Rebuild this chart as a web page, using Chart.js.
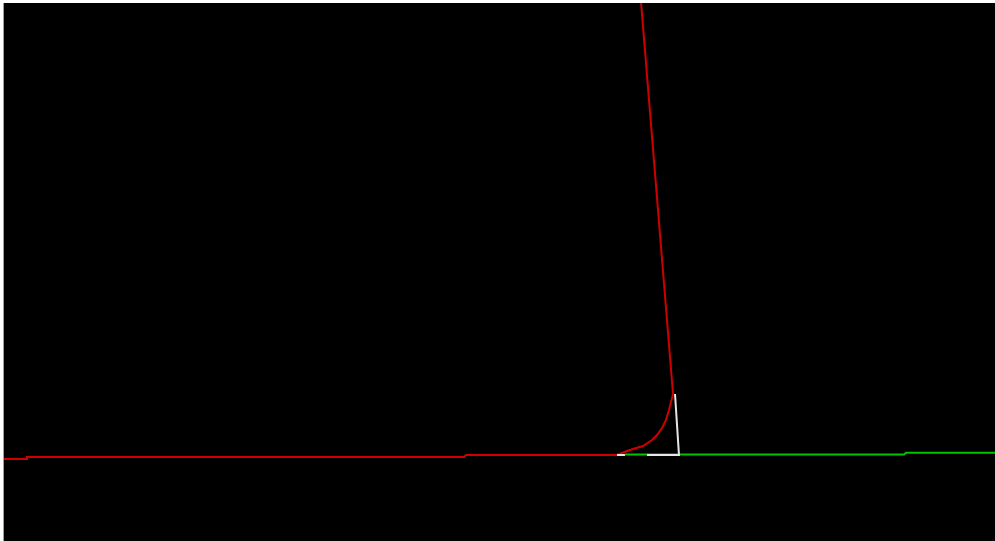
<!DOCTYPE html>
<html>
<head>
<meta charset="utf-8">
<script src="https://cdn.jsdelivr.net/npm/chart.js@4/dist/chart.umd.min.js"></script>
<style>
  html, body { margin: 0; padding: 0; background: #ffffff; }
  #wrap { position: absolute; left: 3px; top: 3px; width: 992px; height: 538px;
          border-left: 1px solid #a0a0a0; background: #000000; box-sizing: border-box; }
  canvas { display: block; }
</style>
</head>
<body>
<div id="wrap"><canvas id="c"></canvas></div>
<script>
// Series values (x, y) in plot units
const redX   = [0, 2.22, 2.32, 46.42, 46.62, 61.86, 62.87, 63.47, 64.48, 65.39, 65.89, 66.40, 66.80, 67.10, 67.31, 67.51, 64.20];
const redY   = [15.24, 15.24, 15.61, 15.61, 15.99, 15.99, 16.73, 17.10, 17.66, 18.77, 19.70, 21.00, 22.49, 24.35, 25.84, 27.32, 102.0];
const whiteX = [61.86, 62.66, null, 64.88, 68.11, 67.71];
const whiteY = [15.99, 15.99, null, 15.99, 15.99, 27.32];
const greenX = [62.66, 90.82, 91.02, 100.0];
const greenY = [16.08, 16.08, 16.41, 16.41];

function pts(xs, ys) {
  return xs.map((x, i) => (x === null ? { x: NaN, y: null } : { x: x, y: ys[i] }));
}

new Chart(document.getElementById('c'), {
  type: 'scatter',
  data: {
    datasets: [
      { data: pts(whiteX, whiteY), borderColor: '#e6e6e6', borderWidth: 2, showLine: true, pointRadius: 0, spanGaps: false, order: 0 },
      { data: pts(greenX, greenY), borderColor: '#00c400', borderWidth: 2, showLine: true, pointRadius: 0, order: 1 },
      { data: pts(redX, redY), borderColor: '#d00000', borderWidth: 2, showLine: true, pointRadius: 0, order: 2 }
    ]
  },
  options: {
    responsive: true,
    maintainAspectRatio: false,
    animation: false,
    layout: { padding: 0 },
    plugins: { legend: { display: false }, tooltip: { enabled: false } },
    scales: {
      x: { type: 'linear', min: 0, max: 100, display: false },
      y: { type: 'linear', min: 0, max: 100, display: false }
    }
  }
});
</script>
</body>
</html>
